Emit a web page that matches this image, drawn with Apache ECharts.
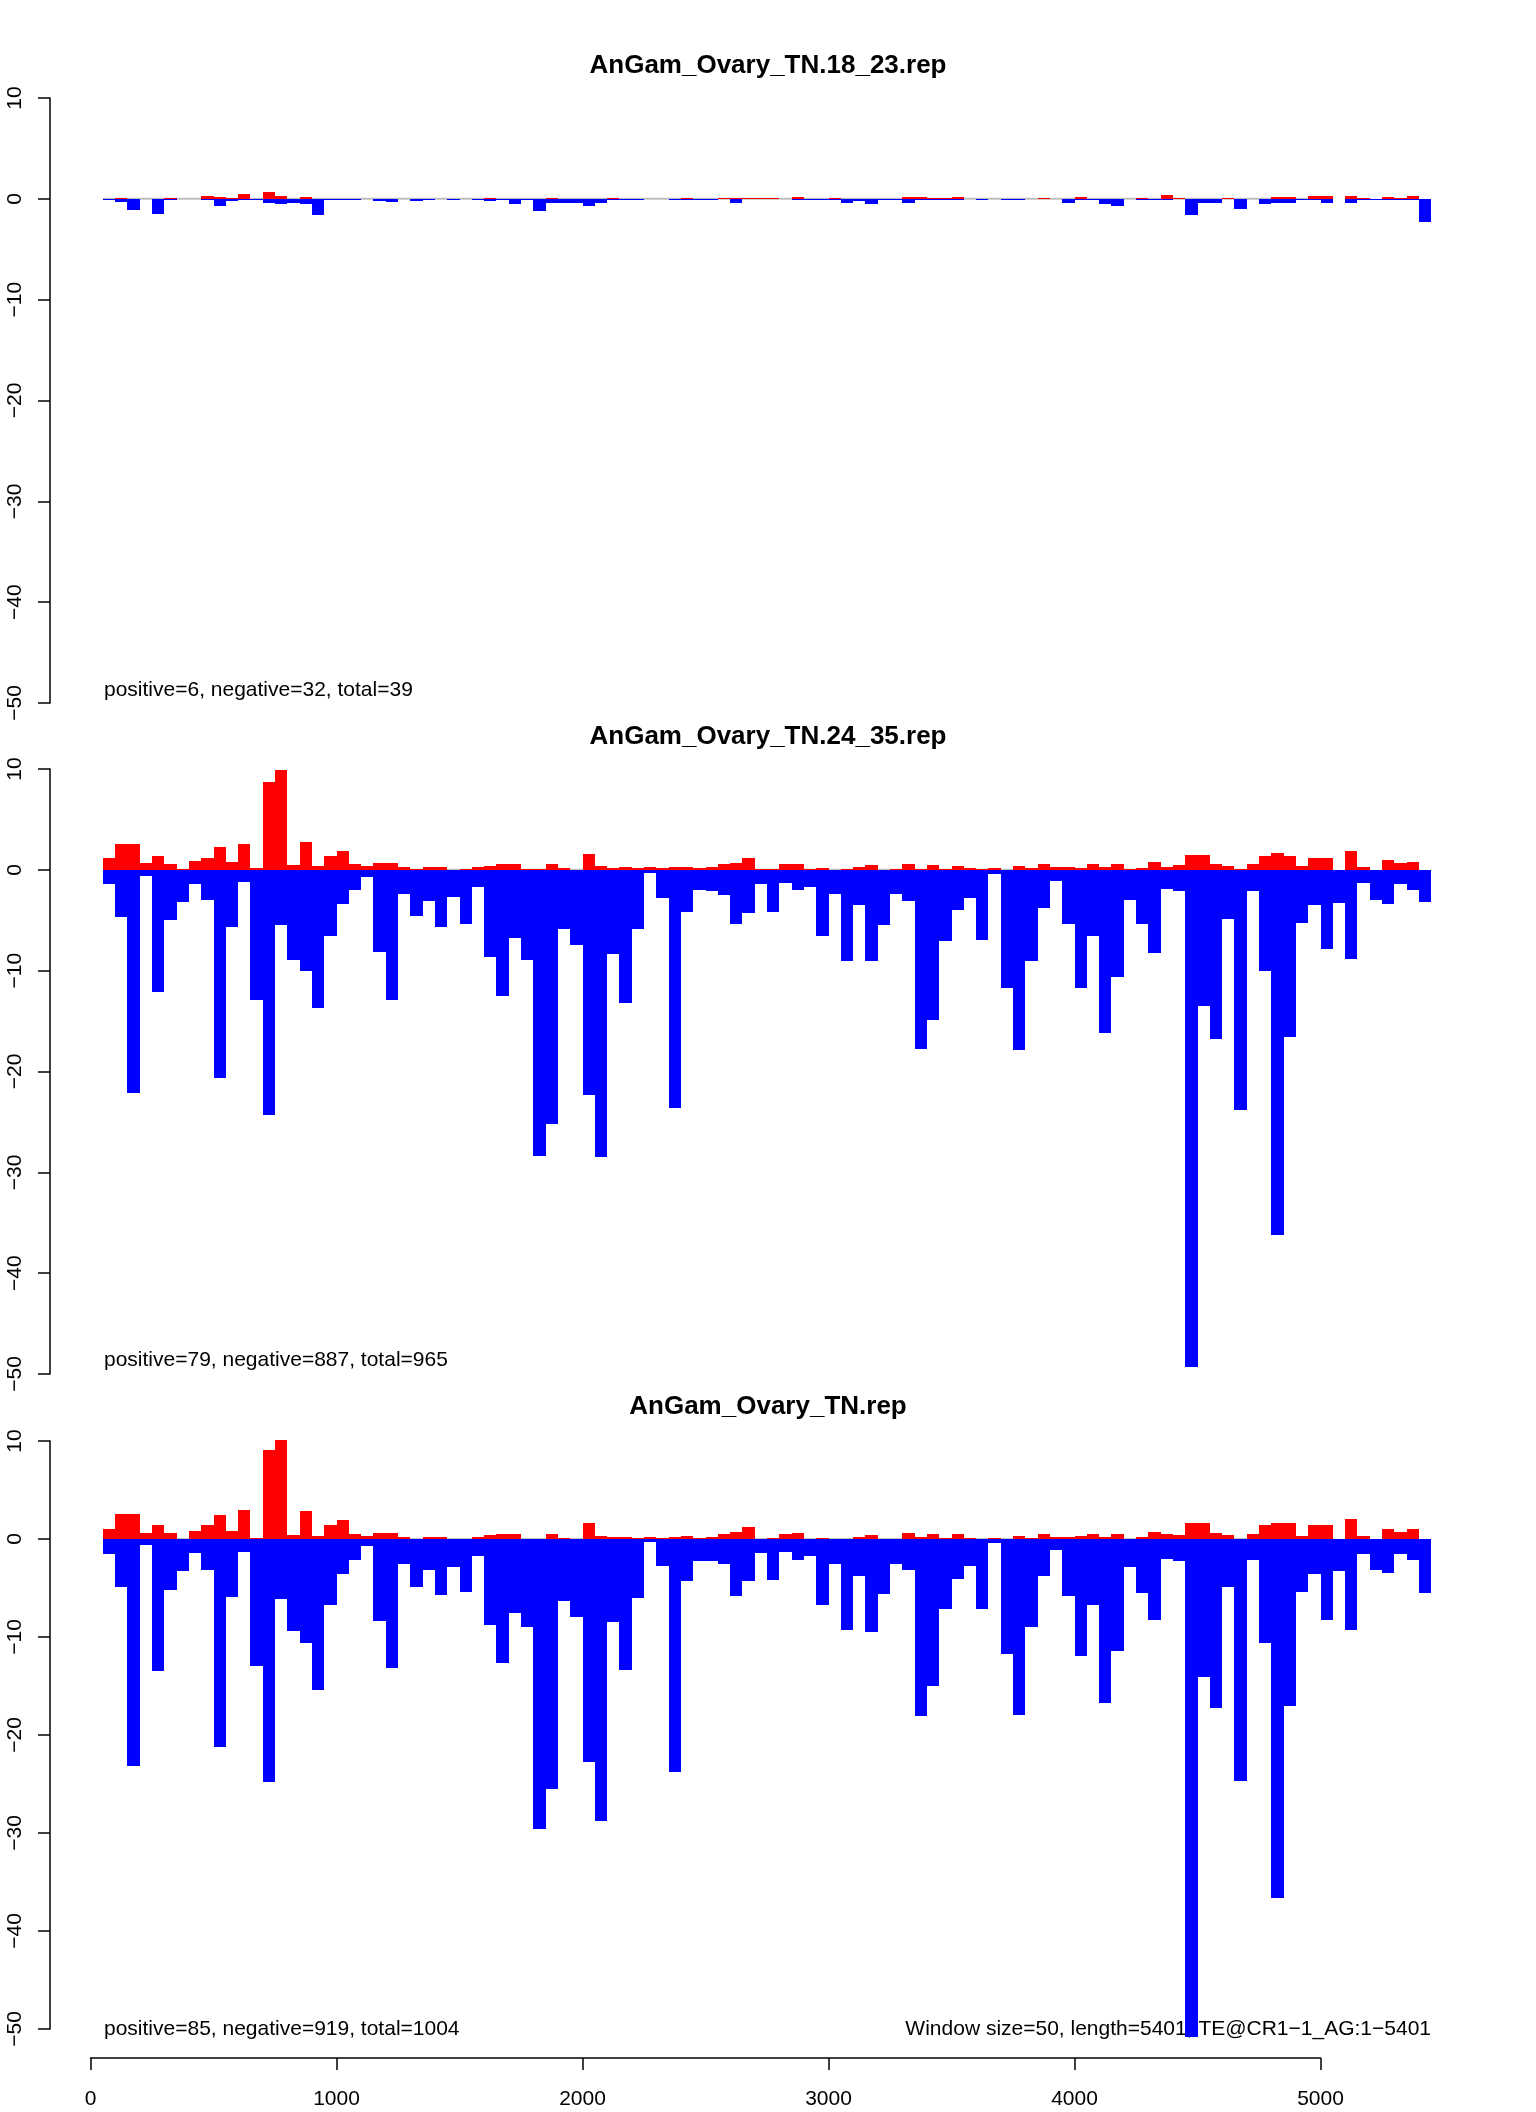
<!DOCTYPE html>
<html><head><meta charset="utf-8">
<script src="https://cdn.jsdelivr.net/npm/echarts@6/dist/echarts.min.js"></script>
<style>html,body{margin:0;padding:0;background:#fff}#chart{width:1536px;height:2112px}</style>
</head><body><div id="chart"></div>
<script>
// ---- data ----
const windowSize = 50;            // each bar spans one 50-bp window, first window starts at 50
const panelTitles = ['AnGam_Ovary_TN.18_23.rep', 'AnGam_Ovary_TN.24_35.rep', 'AnGam_Ovary_TN.rep'];
const panelNotes = ['positive=6, negative=32, total=39', 'positive=79, negative=887, total=965', 'positive=85, negative=919, total=1004'];
const footNote = 'Window size=50, length=5401, TE@CR1\u22121_AG:1\u22125401';
const yMin = -50, yMax = 10, yStep = 10;
const xMin = 0, xMax = 5000, xStep = 1000;

const p1Pos = [0,0.1,0,0,0,0.1,0,0,0.3,0.2, 0.1,0.5,0,0.7,0.3,0,0.2,0,0,0, 0,0,0,0,0,0,0,0,0,0, 0,0.1,0,0,0,0,0.1,0,0,0, 0,0.1,0,0,0,0,0,0.1,0,0, 0.1,0.1,0.1,0.1,0.1,0,0.2,0,0,0.1, 0,0,0,0,0,0.2,0.2,0.1,0.1,0.2, 0,0,0,0,0,0,0.1,0,0,0.2, 0,0,0,0,0.1,0,0.4,0.1,0,0, 0,0.1,0,0,0,0.2,0.2,0,0.3,0.3, 0,0.3,0.1,0,0.2,0.1,0.3,0];
const p1Neg = [-0.1,-0.3,-1.1,0,-1.5,-0.15,0,0,-0.15,-0.7, -0.25,-0.1,-0.1,-0.45,-0.55,-0.4,-0.55,-1.65,-0.15,-0.15, -0.1,0,-0.25,-0.35,0,-0.25,-0.1,0,-0.15,0, -0.1,-0.25,-0.15,-0.55,-0.1,-1.2,-0.4,-0.4,-0.45,-0.7, -0.4,-0.15,-0.15,-0.15,0,0,-0.15,-0.1,-0.15,-0.1, 0,-0.45,0,0,0,0,-0.1,-0.1,-0.1,-0.1, -0.4,-0.25,-0.5,-0.1,-0.1,-0.4,-0.1,-0.1,-0.1,-0.1, 0,-0.1,0,-0.1,-0.15,0,0,0,-0.45,-0.15, -0.1,-0.55,-0.75,0,-0.15,-0.1,-0.1,0,-1.65,-0.45, -0.45,0,-1.0,0,-0.55,-0.45,-0.45,-0.15,-0.1,-0.45, 0,-0.45,-0.15,-0.15,-0.1,-0.1,-0.1,-2.3];

const p2Pos = [1.2,2.6,2.6,0.7,1.4,0.6,0.1,0.9,1.2,2.3, 0.8,2.6,0.2,8.7,9.9,0.5,2.8,0.4,1.4,1.9, 0.6,0.4,0.7,0.7,0.3,0.1,0.3,0.3,0,0.1, 0.3,0.4,0.6,0.6,0.1,0.1,0.6,0.2,0,1.6, 0.4,0.2,0.3,0.2,0.3,0.2,0.3,0.3,0.2,0.3, 0.6,0.7,1.2,0.1,0.1,0.6,0.6,0.1,0.2,0, 0.1,0.3,0.5,0,0.1,0.6,0.1,0.5,0.1,0.4, 0.2,0.1,0.2,0,0.4,0.2,0.6,0.3,0.3,0.2, 0.6,0.3,0.6,0.1,0.2,0.8,0.3,0.5,1.5,1.5, 0.6,0.4,0.1,0.6,1.4,1.7,1.4,0.4,1.2,1.2, 0,1.9,0.3,0,1.0,0.7,0.8,0];
const p2Neg = [-1.4,-4.7,-22.1,-0.6,-12.1,-5.0,-3.2,-1.4,-3.0,-20.6, -5.7,-1.2,-12.9,-24.3,-5.5,-8.9,-10.0,-13.7,-6.6,-3.4, -2.0,-0.75,-8.1,-12.9,-2.4,-4.6,-3.1,-5.7,-2.7,-5.4, -1.7,-8.6,-12.5,-6.8,-8.9,-28.4,-25.2,-5.9,-7.5,-22.3, -28.5,-8.3,-13.2,-5.9,-0.35,-2.8,-23.6,-4.2,-2.0,-2.05, -2.5,-5.4,-4.3,-1.4,-4.2,-1.3,-2.0,-1.7,-6.6,-2.4, -9.0,-3.5,-9.05,-5.5,-2.4,-3.1,-17.8,-14.9,-7.1,-4.0, -2.8,-7.0,-0.45,-11.7,-17.9,-9.05,-3.8,-1.15,-5.4,-11.7, -6.6,-16.2,-10.6,-3.0,-5.4,-8.2,-1.9,-2.1,-49.3,-13.5, -16.8,-4.9,-23.8,-2.05,-10.0,-36.2,-16.6,-5.3,-3.5,-7.9, -3.3,-8.85,-1.3,-3.0,-3.4,-1.4,-2.0,-3.2];

const p3Pos = [1.05,2.6,2.6,0.65,1.4,0.65,0.05,0.85,1.4,2.4, 0.85,3.0,0.15,9.1,10.1,0.45,2.9,0.35,1.4,1.9, 0.55,0.35,0.65,0.65,0.25,0.05,0.25,0.25,0.05,0.05, 0.25,0.45,0.55,0.55,0.05,0.05,0.55,0.15,0,1.6, 0.35,0.25,0.25,0.15,0.25,0.15,0.25,0.35,0.15,0.25, 0.55,0.75,1.2,0,0.15,0.55,0.65,0,0.15,0, 0,0.25,0.45,0,0,0.65,0.25,0.55,0.15,0.55, 0.15,0,0.15,0,0.35,0.15,0.55,0.25,0.25,0.35, 0.55,0.25,0.55,0,0.25,0.75,0.55,0.45,1.6,1.6, 0.65,0.45,0,0.55,1.45,1.65,1.6,0.35,1.45,1.4, 0,2.05,0.35,0,1.05,0.75,1.05,0];
const p3Neg = [-1.55,-4.9,-23.2,-0.65,-13.5,-5.2,-3.3,-1.45,-3.2,-21.2, -5.9,-1.35,-13.0,-24.8,-6.1,-9.4,-10.6,-15.4,-6.75,-3.6, -2.15,-0.75,-8.4,-13.2,-2.5,-4.9,-3.2,-5.7,-2.9,-5.4, -1.75,-8.8,-12.7,-7.5,-9.0,-29.6,-25.5,-6.3,-8.0,-22.8, -28.8,-8.5,-13.4,-6.05,-0.33,-2.75,-23.8,-4.3,-2.2,-2.2, -2.55,-5.85,-4.3,-1.45,-4.2,-1.35,-2.15,-1.75,-6.7,-2.5, -9.3,-3.8,-9.5,-5.6,-2.5,-3.2,-18.1,-15.0,-7.15,-4.1, -2.75,-7.1,-0.4,-11.75,-18.0,-9.0,-3.8,-1.15,-5.85,-11.95, -6.7,-16.7,-11.4,-2.9,-5.5,-8.3,-2.0,-2.2,-50.8,-14.1, -17.2,-4.9,-24.7,-2.1,-10.6,-36.6,-17.0,-5.45,-3.6,-8.3, -3.3,-9.3,-1.55,-3.2,-3.5,-1.55,-2.15,-5.5];

// ---- layout ----
const FONT = '"Liberation Sans", Arial, Helvetica, sans-serif';
const gridLeft = 90.5, gridWidth = 1230;
const panels = [
  {top: 98,   height: 605, pos: p1Pos, neg: p1Neg, titleY: 66,   noteY: 690},
  {top: 769,  height: 605, pos: p2Pos, neg: p2Neg, titleY: 737,  noteY: 1360},
  {top: 1441, height: 588, pos: p3Pos, neg: p3Neg, titleY: 1407, noteY: 2029}
];

function toData(vals) {
  return vals.map((v, i) => [windowSize * (i + 1), v]);
}
function makeRender(color) {
  return function (params, api) {
    const x0 = api.value(0), v = api.value(1);
    if (!v) return null;
    const a = api.coord([x0, 0]);
    const b = api.coord([x0 + windowSize, v]);
    const xa = Math.round(a[0]), xb = Math.round(b[0]);
    const ya = Math.round(a[1]), yb = Math.round(b[1]);
    return {
      type: 'rect',
      shape: {x: xa, y: Math.min(ya, yb), width: xb - xa, height: Math.max(1, Math.abs(yb - ya))},
      style: {fill: color}
    };
  };
}
const fmtY = v => (v < 0 ? '\u2212' + Math.abs(v) : String(v));
const fmtX = v => String(v);

const grids = [], xAxes = [], yAxes = [], series = [], graphics = [];
panels.forEach((p, k) => {
  const last = k === panels.length - 1;
  grids.push({left: gridLeft, width: gridWidth, top: p.top, height: p.height, containLabel: false});
  xAxes.push({
    type: 'value', gridIndex: k, min: xMin, max: xMax, interval: xStep,
    show: last, offset: last ? 29 : 0, position: 'bottom',
    axisLine: {show: true, onZero: false, lineStyle: {color: '#000', width: 1.5}},
    axisTick: {show: true, length: 12, lineStyle: {color: '#000', width: 1.5}},
    axisLabel: {show: true, margin: 31, fontSize: 21, color: '#000', fontFamily: FONT, formatter: fmtX},
    splitLine: {show: false}
  });
  yAxes.push({
    type: 'value', gridIndex: k, min: yMin, max: yMax, interval: yStep, position: 'left', offset: 40.5,
    axisLine: {show: true, onZero: false, lineStyle: {color: '#000', width: 1.5}},
    axisTick: {show: true, length: 12, lineStyle: {color: '#000', width: 1.5}},
    axisLabel: {rotate: 90, margin: 24, fontSize: 21, color: '#000', fontFamily: FONT, formatter: fmtY},
    splitLine: {show: false}
  });
  series.push({
    type: 'line', xAxisIndex: k, yAxisIndex: k, symbol: 'none', silent: true, z: 1,
    data: [[windowSize, 0], [windowSize * (p.pos.length + 1), 0]],
    lineStyle: {color: '#BEBEBE', width: 2}
  });
  series.push({type: 'custom', xAxisIndex: k, yAxisIndex: k, clip: false, z: 2, silent: true,
    renderItem: makeRender('#FF0000'), data: toData(p.pos)});
  series.push({type: 'custom', xAxisIndex: k, yAxisIndex: k, clip: false, z: 3, silent: true,
    renderItem: makeRender('#0000FF'), data: toData(p.neg)});
  graphics.push({type: 'text', x: 768, y: p.titleY, silent: true,
    style: {text: panelTitles[k], font: 'bold 26px ' + FONT, fill: '#000', align: 'center', verticalAlign: 'middle'}});
  graphics.push({type: 'text', x: 104, y: p.noteY, silent: true,
    style: {text: panelNotes[k], font: '21px ' + FONT, fill: '#000', align: 'left', verticalAlign: 'middle'}});
});
graphics.push({type: 'text', x: 1431, y: panels[2].noteY, silent: true,
  style: {text: footNote, font: '21px ' + FONT, fill: '#000', align: 'right', verticalAlign: 'middle'}});

const chart = echarts.init(document.getElementById('chart'), null, {renderer: 'canvas'});
chart.setOption({
  animation: false,
  backgroundColor: '#ffffff',
  grid: grids, xAxis: xAxes, yAxis: yAxes, series: series, graphic: graphics
});
</script></body></html>
